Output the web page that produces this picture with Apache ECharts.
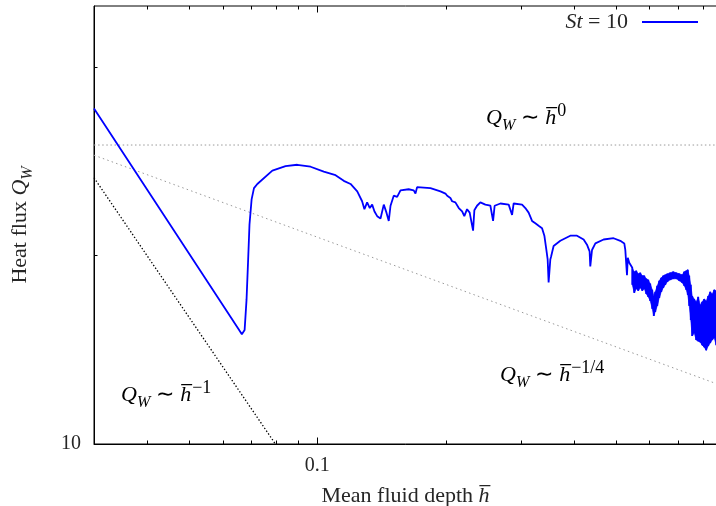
<!DOCTYPE html>
<html><head><meta charset="utf-8">
<script src="https://cdn.jsdelivr.net/npm/echarts@6/dist/echarts.min.js"></script>
<style>html,body{margin:0;padding:0;background:#fff}#c{width:716px;height:506px}</style>
</head><body><div id="c"></div><script>
// ---- data (mean fluid depth h, heat flux Q_W) ----
const depthSt10 = [0.03, 0.0654, 0.0666, 0.0676, 0.0683, 0.0689, 0.0694, 0.0702, 0.0711, 0.0724,
  0.0785, 0.0843, 0.0898, 0.0965, 0.1036, 0.1104, 0.1154, 0.1197, 0.1241, 0.1274,
  0.1290, 0.1309, 0.1328, 0.1345, 0.1362, 0.1382, 0.1407, 0.1432, 0.1453, 0.1471,
  0.1485, 0.1511, 0.1539, 0.1567, 0.1638, 0.1683, 0.1699, 0.1714, 0.1842, 0.1944,
  0.1997, 0.2016, 0.2051, 0.2070, 0.2107, 0.2146, 0.2185, 0.2211, 0.2244, 0.2276,
  0.2318, 0.2334, 0.2368, 0.2411, 0.2477, 0.2545, 0.2582, 0.2604, 0.2686, 0.2809,
  0.2861, 0.2885, 0.3019, 0.3073, 0.3128, 0.3186, 0.3243, 0.3301, 0.3363, 0.3405,
  0.3442, 0.3466, 0.3484, 0.3516, 0.3530, 0.3579, 0.3711, 0.3916, 0.4060, 0.4208,
  0.4285, 0.4346, 0.4362, 0.4403, 0.4483, 0.4687, 0.4946, 0.5129, 0.5240, 0.5269,
  0.5317, 0.5340, 0.5383, 0.5427];
const fluxSt10 = [34.3, 15.26, 14.97, 15.2, 16.98, 19.7, 22.4, 24.57, 25.6, 26.0,
  27.3, 27.76, 27.9, 27.7, 27.2, 26.85, 26.3, 26.0, 25.3, 24.4,
  23.7, 24.3, 23.8, 24.1, 23.5, 23.1, 22.9, 24.1, 23.4, 22.7,
  24.0, 24.9, 24.8, 25.4, 25.5, 25.4, 25.1, 25.7, 25.6, 25.3,
  25.1, 24.9, 24.7, 24.4, 24.3, 23.8, 23.5, 23.1, 23.7, 23.4,
  21.9, 23.6, 24.0, 24.3, 24.1, 24.0, 22.7, 24.0, 24.2, 24.1,
  23.2, 24.2, 24.1, 23.8, 23.4, 22.7, 22.5, 22.3, 22.1, 21.5,
  20.4, 19.7, 18.1, 19.7, 19.9, 20.7, 21.1, 21.5, 21.5, 21.2,
  20.8, 20.3, 19.2, 20.4, 20.9, 21.2, 21.3, 21.1, 20.9, 20.4,
  18.6, 19.83, 19.47, 19.54];
// noisy tail: upper / lower envelope of the oscillating signal
const bandDepth = [0.5471, 0.5530, 0.5590, 0.5650, 0.5712, 0.5774, 0.5836, 0.5900, 0.5964, 0.6028,
  0.6094, 0.6143, 0.6193, 0.6260, 0.6328, 0.6397, 0.6466, 0.6536, 0.6607, 0.6714,
  0.6824, 0.6935, 0.7048, 0.7163, 0.7241, 0.7319, 0.7379, 0.7439, 0.7499, 0.7559,
  0.7641, 0.7724, 0.7808, 0.7893, 0.7979, 0.8065, 0.8152, 0.8241, 0.8330, 0.8420,
  0.8512, 0.8604];
const bandUpper = [19.11, 18.83, 18.90, 18.69, 18.76, 18.56, 18.56, 18.35, 18.28, 18.02,
  17.62, 17.23, 17.49, 17.88, 18.22, 18.42, 18.56, 18.62, 18.69, 18.76,
  18.83, 18.76, 18.69, 18.62, 18.83, 18.90, 18.97, 18.56, 17.95, 17.23,
  17.04, 16.86, 17.17, 16.67, 16.86, 17.04, 16.92, 17.23, 17.49, 17.36,
  17.62, 17.56];
const bandLower = [17.95, 17.43, 17.69, 17.56, 17.75, 17.56, 17.69, 17.36, 17.17, 16.92,
  16.43, 16.01, 16.25, 16.61, 17.11, 17.49, 17.75, 17.95, 18.15, 18.28,
  18.35, 18.35, 18.22, 18.08, 17.88, 17.62, 17.30, 16.61, 15.77, 14.87,
  15.03, 14.65, 14.59, 14.54, 14.38, 14.27, 14.11, 14.33, 14.49, 14.65,
  14.76, 14.38];
// guide power laws (end points)
const guideFlatDepth = [0.03, 0.864];
const guideFlatFlux = [30, 30];
const guideQuarterDepth = [0.03, 0.864];
const guideQuarterFlux = [28.9, 12.47];
const guideInverseDepth = [0.03, 0.0798];
const guideInverseFlux = [26.6, 10];
// axes
const xRange = [0.03, 0.864];
const yRange = [10, 50];
const xMajorTicks = [0.1];
const xMinorTicks = [0.04, 0.05, 0.06, 0.07, 0.08, 0.09, 0.2, 0.3, 0.4, 0.5, 0.6, 0.7, 0.8];
const yMajorTicks = [10];
const yMinorTicks = [20, 40];
const xTickLabels = [0.1];
const yTickLabels = [10];

const FONT = 'Liberation Serif';
const TXT = '#262626';
const BLUE = '#0000ff';

const mainData = depthSt10.map((h, i) => [h, fluxSt10[i]]);
bandDepth.forEach((h, i) => { mainData.push([h, bandUpper[i]]); mainData.push([h, bandLower[i]]); });

// band segments for a filled envelope: [h_i, up_i, lo_i, h_i+1, up_i+1, lo_i+1]
const bandSegs = [];
for (let i = 0; i + 1 < bandDepth.length; i++) {
  bandSegs.push([bandDepth[i], bandUpper[i], bandLower[i], bandDepth[i + 1], bandUpper[i + 1], bandLower[i + 1]]);
}

function pairs(a, b) { return a.map((v, i) => [v, b[i]]); }
function hasVal(list, v) { return list.some(t => Math.abs(t - v) / t < 1e-6); }

const tickData = []
  .concat(xMajorTicks.map(v => [v, yRange[0], 1, 0]))
  .concat(xMinorTicks.map(v => [v, yRange[0], 0, 0]))
  .concat(yMajorTicks.map(v => [xRange[0], v, 1, 1]))
  .concat(yMinorTicks.map(v => [xRange[0], v, 0, 1]));

const mathRich = {
  r: {fontFamily: FONT, fontSize: 22, color: TXT, lineHeight: 32},
  t: {fontFamily: FONT, fontSize: 22, color: TXT, lineHeight: 32, padding: [0, 6, 0, 6]},
  q: {fontFamily: FONT, fontSize: 22, fontStyle: 'italic', color: TXT, lineHeight: 32},
  s: {fontFamily: FONT, fontSize: 16, fontStyle: 'italic', color: TXT, lineHeight: 23, verticalAlign: 'bottom'},
  h: {fontFamily: FONT, fontSize: 22, fontStyle: 'italic', color: TXT, lineHeight: 32},
  p: {fontFamily: FONT, fontSize: 18, color: TXT, lineHeight: 19, verticalAlign: 'top', padding: [0, 0, 0, 1]}
};

const chart = echarts.init(document.getElementById('c'), null, {renderer: 'canvas'});
chart.setOption({
  animation: false,
  backgroundColor: '#fff',
  textStyle: {fontFamily: FONT},
  grid: {left: 94, right: -1, top: 6, bottom: 62, show: true, borderColor: '#000', borderWidth: 1,
    containLabel: false, outerBoundsMode: 'none'},
  legend: {
    right: 18, top: 11, padding: 0, align: 'right', itemWidth: 56, itemHeight: 2, icon: 'rect',
    data: ['St = 10'],
    formatter: () => '{i|St} = 10',
    itemStyle: {color: BLUE},
    textStyle: {fontFamily: FONT, fontSize: 22, color: TXT, lineHeight: 22, padding: [0, 9, 0, 0],
      rich: {i: {fontFamily: FONT, fontSize: 22, fontStyle: 'italic', color: TXT, lineHeight: 22}}}
  },
  xAxis: {
    type: 'log', logBase: 10, min: xRange[0], max: xRange[1],
    name: '{r|Mean fluid depth }{h|h\u0305}', nameLocation: 'middle', nameGap: 36,
    nameTextStyle: {fontFamily: FONT, fontSize: 22, color: TXT, rich: mathRich},
    axisLine: {show: true, lineStyle: {color: '#000', width: 1}},
    axisTick: {show: false}, splitLine: {show: false}, minorTick: {show: false},
    axisLabel: {fontFamily: FONT, fontSize: 20, color: TXT, margin: 12,
      formatter: v => hasVal(xTickLabels, v) ? String(+v.toPrecision(6)) : ''}
  },
  yAxis: {
    type: 'log', logBase: 10, min: yRange[0], max: yRange[1],
    name: '{r|Heat flux }{q|Q}{s|W}', nameLocation: 'middle', nameGap: 58, nameRotate: 90,
    nameTextStyle: {fontFamily: FONT, fontSize: 22, color: TXT, rich: mathRich},
    axisLine: {show: true, lineStyle: {color: '#000', width: 1}},
    axisTick: {show: false}, splitLine: {show: false}, minorTick: {show: false},
    axisLabel: {fontFamily: FONT, fontSize: 20, color: TXT, margin: 13,
      formatter: v => hasVal(yTickLabels, v) ? String(+v.toPrecision(6)) : ''}
  },
  graphic: [
    {type: 'text', left: 486, top: 102, silent: true,
      style: {text: '{q|Q}{s|W}{t|\u223C}{h|h\u0305}{p|0}', rich: mathRich}},
    {type: 'text', left: 500, top: 359, silent: true,
      style: {text: '{q|Q}{s|W}{t|\u223C}{h|h\u0305}{p|\u22121/4}', rich: mathRich}},
    {type: 'text', left: 121, top: 379, silent: true,
      style: {text: '{q|Q}{s|W}{t|\u223C}{h|h\u0305}{p|\u22121}', rich: mathRich}}
  ],
  series: [
    {type: 'line', name: 'h0', data: pairs(guideFlatDepth, guideFlatFlux), showSymbol: false, symbol: 'none', silent: true,
      lineStyle: {color: '#999', width: 1, type: [1.5, 2.6]}, z: 1},
    {type: 'line', name: 'h-1/4', data: pairs(guideQuarterDepth, guideQuarterFlux), showSymbol: false, symbol: 'none', silent: true,
      lineStyle: {color: '#999', width: 1, type: [1.5, 3.2]}, z: 1},
    {type: 'line', name: 'h-1', data: pairs(guideInverseDepth, guideInverseFlux), showSymbol: false, symbol: 'none', silent: true,
      lineStyle: {color: '#000', width: 1.3, type: [1.4, 2.0]}, z: 1},
    {type: 'custom', name: 'band', data: bandSegs, silent: true, z: 2,
      encode: {x: 0, y: 1},
      renderItem: function (params, api) {
        const a1 = api.coord([api.value(0), api.value(1)]);
        const a2 = api.coord([api.value(3), api.value(4)]);
        const b2 = api.coord([api.value(3), api.value(5)]);
        const b1 = api.coord([api.value(0), api.value(2)]);
        return {type: 'polygon', shape: {points: [a1, a2, b2, b1]},
          style: {fill: BLUE, stroke: BLUE, lineWidth: 0.6}};
      }},
    {type: 'line', name: 'St = 10', data: mainData, showSymbol: false, symbol: 'none',
      lineStyle: {color: BLUE, width: 1.8}, itemStyle: {color: BLUE}, z: 3},
    {type: 'custom', name: 'ticks', data: tickData, silent: true, clip: false, z: 4,
      encode: {x: 0, y: 1},
      renderItem: function (params, api) {
        const major = api.value(2) === 1;
        const isY = api.value(3) === 1;
        const len = major ? 6.5 : 3.5;
        const st = {stroke: '#000', lineWidth: 1};
        if (!isY) {
          const h = api.value(0);
          const b = api.coord([h, yRange[0]]);
          const t = api.coord([h, yRange[1]]);
          const x = Math.round(b[0]) + 0.5;
          return {type: 'group', children: [
            {type: 'line', shape: {x1: x, y1: b[1], x2: x, y2: b[1] - len}, style: st},
            {type: 'line', shape: {x1: x, y1: t[1], x2: x, y2: t[1] + len}, style: st}]};
        } else {
          const q = api.value(1);
          const l = api.coord([xRange[0], q]);
          const y = Math.round(l[1]) + 0.5;
          return {type: 'line', shape: {x1: l[0], y1: y, x2: l[0] + len, y2: y}, style: st};
        }
      }}
  ]
});
</script></body></html>
